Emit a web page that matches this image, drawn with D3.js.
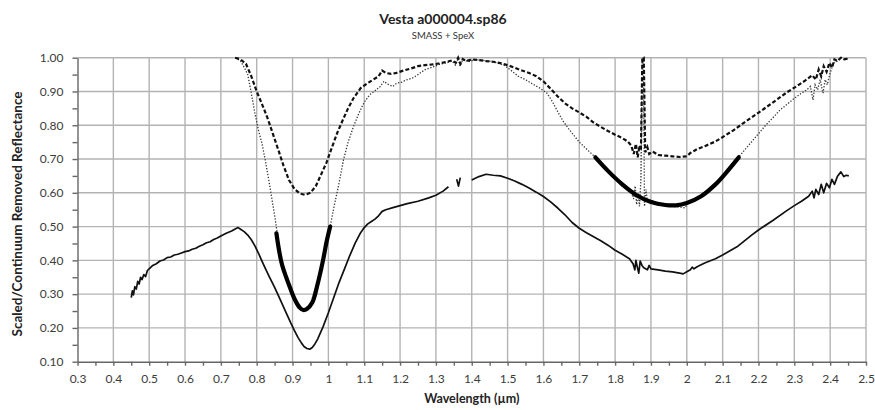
<!DOCTYPE html>
<html>
<head>
<meta charset="utf-8">
<script src="https://cdn.jsdelivr.net/npm/d3@7"></script>
<style>
  body { margin: 0; background: #fff; }
  svg { display: block; font-family: Lato, 'Open Sans', sans-serif; }
</style>
</head>
<body>
<svg></svg>
<script>
// Dimensions (plot box in pixels)
var width = 875;
var height = 410;
var plotLeft = 77.5, plotRight = 866, plotTop = 57.7, plotBottom = 361.7;

// Chart text
var title = 'Vesta a000004.sp86';
var subtitle = 'SMASS + SpeX';
var xLabel = 'Wavelength (\u00b5m)';
var yLabel = 'Scaled/Continuum Removed Reflectance';

// Tick values
var xTicks = [0.3, 0.4, 0.5, 0.6, 0.7, 0.8, 0.9, 1, 1.1, 1.2, 1.3, 1.4, 1.5, 1.6, 1.7, 1.8, 1.9, 2, 2.1, 2.2, 2.3, 2.4, 2.5];
var yTicks = [0.1, 0.2, 0.3, 0.4, 0.5, 0.6, 0.7, 0.8, 0.9, 1.0];

// Scaled reflectance spectrum (solid), null = gap
var spectrum = [
  [0.450, 0.290], [0.453, 0.310], [0.456, 0.298], [0.460, 0.322], [0.464, 0.315], [0.468, 0.338],
  [0.472, 0.330], [0.476, 0.350], [0.480, 0.343], [0.485, 0.358], [0.490, 0.352], [0.495, 0.370],
  [0.500, 0.375], [0.510, 0.385], [0.520, 0.390], [0.530, 0.398], [0.540, 0.401], [0.550, 0.408],
  [0.560, 0.410], [0.570, 0.416], [0.580, 0.418], [0.590, 0.422], [0.600, 0.426], [0.610, 0.428],
  [0.620, 0.433], [0.630, 0.436], [0.640, 0.442], [0.650, 0.446], [0.660, 0.452], [0.670, 0.455],
  [0.680, 0.462], [0.690, 0.466], [0.700, 0.472], [0.715, 0.480], [0.730, 0.487], [0.740, 0.493],
  [0.748, 0.497], [0.755, 0.492], [0.765, 0.485], [0.775, 0.475], [0.785, 0.461], [0.795, 0.443],
  [0.805, 0.421], [0.815, 0.397], [0.825, 0.374], [0.835, 0.352], [0.850, 0.320], [0.865, 0.285],
  [0.880, 0.250], [0.895, 0.215], [0.905, 0.193], [0.915, 0.172], [0.925, 0.155], [0.932, 0.145],
  [0.940, 0.139], [0.948, 0.137], [0.955, 0.142], [0.962, 0.152], [0.970, 0.167], [0.985, 0.203],
  [1.000, 0.245], [1.015, 0.290], [1.030, 0.335], [1.045, 0.375], [1.060, 0.415], [1.075, 0.452],
  [1.090, 0.482], [1.100, 0.497], [1.110, 0.508], [1.120, 0.515], [1.130, 0.522], [1.140, 0.532],
  [1.150, 0.545], [1.160, 0.550], [1.180, 0.556], [1.200, 0.562], [1.220, 0.568], [1.250, 0.575],
  [1.280, 0.585], [1.300, 0.593], [1.320, 0.605], [1.335, 0.618], [1.340, null],
  [1.358, 0.640], [1.363, 0.620], [1.368, 0.645], [1.380, null],
  [1.400, 0.638], [1.420, 0.648], [1.440, 0.655], [1.460, 0.652], [1.480, 0.650], [1.500, 0.643],
  [1.520, 0.635], [1.540, 0.625], [1.560, 0.614], [1.580, 0.602], [1.600, 0.589], [1.620, 0.573],
  [1.640, 0.555], [1.660, 0.535], [1.680, 0.512], [1.700, 0.495], [1.720, 0.482], [1.740, 0.470],
  [1.760, 0.458], [1.780, 0.445], [1.800, 0.430], [1.820, 0.418], [1.840, 0.405], [1.850, 0.390],
  [1.855, 0.372], [1.858, 0.400], [1.862, 0.380], [1.866, 0.362], [1.870, 0.398], [1.875, 0.385],
  [1.880, 0.378], [1.890, 0.372], [1.895, 0.385], [1.900, 0.375], [1.920, 0.372], [1.940, 0.368],
  [1.960, 0.366], [1.980, 0.362], [1.990, 0.360], [2.000, 0.366], [2.010, 0.372], [2.015, 0.380],
  [2.020, 0.375], [2.030, 0.382], [2.050, 0.392], [2.080, 0.405], [2.100, 0.416], [2.140, 0.440],
  [2.180, 0.474], [2.200, 0.490], [2.240, 0.518], [2.280, 0.548], [2.300, 0.562], [2.320, 0.575],
  [2.340, 0.590], [2.350, 0.605], [2.355, 0.585], [2.360, 0.610], [2.368, 0.595], [2.375, 0.625],
  [2.382, 0.600], [2.390, 0.628], [2.398, 0.615], [2.405, 0.640], [2.412, 0.625], [2.420, 0.648],
  [2.430, 0.662], [2.438, 0.648], [2.445, 0.652], [2.452, 0.650]
];

// Continuum removed, SMASS + SpeX (dashed)
var removedA = [
  [0.740, 1.000], [0.755, 0.995], [0.770, 0.982], [0.785, 0.945], [0.800, 0.900], [0.815, 0.862],
  [0.830, 0.822], [0.845, 0.775], [0.860, 0.728], [0.875, 0.680], [0.890, 0.638], [0.905, 0.612],
  [0.920, 0.598], [0.935, 0.594], [0.950, 0.600], [0.965, 0.620], [0.980, 0.655], [0.995, 0.690],
  [1.010, 0.735], [1.025, 0.778], [1.040, 0.815], [1.055, 0.850], [1.070, 0.880], [1.090, 0.910],
  [1.110, 0.925], [1.125, 0.935], [1.140, 0.945], [1.150, 0.962], [1.160, 0.955], [1.175, 0.952],
  [1.190, 0.955], [1.210, 0.962], [1.230, 0.968], [1.250, 0.975], [1.270, 0.978], [1.290, 0.980],
  [1.310, 0.983], [1.330, 0.988], [1.345, 0.992], [1.355, 0.985], [1.362, 1.000], [1.368, 0.982],
  [1.375, 0.996], [1.385, 0.990], [1.400, 0.995], [1.420, 0.993], [1.440, 0.990], [1.460, 0.988],
  [1.480, 0.984], [1.500, 0.978], [1.520, 0.970], [1.540, 0.962], [1.560, 0.955], [1.580, 0.945],
  [1.600, 0.930], [1.620, 0.908], [1.640, 0.885], [1.660, 0.865], [1.680, 0.850], [1.700, 0.838],
  [1.720, 0.825], [1.740, 0.808], [1.760, 0.795], [1.780, 0.783], [1.800, 0.772], [1.820, 0.762],
  [1.835, 0.752], [1.845, 0.740], [1.852, 0.715], [1.858, 0.745], [1.863, 0.705], [1.868, 0.740],
  [1.872, 0.725], [1.876, 1.000], [1.880, 1.000], [1.884, 0.720], [1.890, 0.735], [1.895, 0.715],
  [1.905, 0.722], [1.920, 0.712], [1.940, 0.710], [1.960, 0.708], [1.980, 0.706], [2.000, 0.708],
  [2.010, 0.718], [2.020, 0.724], [2.030, 0.730], [2.050, 0.738], [2.080, 0.752], [2.100, 0.765],
  [2.130, 0.785], [2.160, 0.808], [2.190, 0.830], [2.220, 0.852], [2.250, 0.875], [2.280, 0.898],
  [2.310, 0.918], [2.330, 0.932], [2.350, 0.948], [2.360, 0.935], [2.368, 0.965], [2.375, 0.945],
  [2.382, 0.975], [2.390, 0.958], [2.398, 0.985], [2.405, 0.970], [2.412, 0.995], [2.420, 0.990],
  [2.430, 1.000], [2.440, 0.995], [2.452, 0.998]
];

// Continuum removed spectrum (dotted)
var removedB = [
  [0.740, 1.000], [0.755, 0.990], [0.765, 0.972], [0.775, 0.950], [0.785, 0.895], [0.795, 0.835],
  [0.805, 0.785], [0.815, 0.745], [0.825, 0.690], [0.835, 0.630], [0.845, 0.565], [0.852, 0.520],
  [0.858, 0.475], [0.870, 0.390], [0.890, 0.330], [0.910, 0.270], [0.930, 0.252], [0.950, 0.270],
  [0.970, 0.340], [0.990, 0.430], [1.005, 0.500], [1.015, 0.555], [1.030, 0.630], [1.042, 0.697],
  [1.055, 0.750], [1.070, 0.796], [1.085, 0.835], [1.100, 0.868], [1.115, 0.890], [1.130, 0.902],
  [1.145, 0.915], [1.155, 0.930], [1.165, 0.922], [1.180, 0.915], [1.190, 0.924], [1.205, 0.928],
  [1.220, 0.935], [1.235, 0.940], [1.250, 0.950], [1.270, 0.965], [1.290, 0.972], [1.310, 0.980],
  [1.330, 0.985], [1.345, 0.990], [1.355, 0.978], [1.362, 0.998], [1.368, 0.975], [1.375, 0.995],
  [1.390, 0.988], [1.410, 0.994], [1.430, 0.992], [1.450, 0.990], [1.470, 0.985], [1.490, 0.978],
  [1.510, 0.962], [1.530, 0.945], [1.550, 0.935], [1.570, 0.922], [1.590, 0.910], [1.610, 0.895],
  [1.625, 0.870], [1.640, 0.840], [1.655, 0.812], [1.670, 0.790], [1.685, 0.770], [1.700, 0.750],
  [1.715, 0.735], [1.730, 0.720], [1.745, 0.705], [1.760, 0.685], [1.780, 0.660], [1.800, 0.640],
  [1.820, 0.620], [1.835, 0.608], [1.845, 0.600], [1.852, 0.582], [1.856, 0.620], [1.860, 0.565],
  [1.864, 0.600], [1.868, 0.560], [1.872, 0.640], [1.876, 1.000], [1.879, 0.998], [1.882, 0.560],
  [1.886, 0.610], [1.890, 0.575], [1.900, 0.580], [1.920, 0.565], [1.940, 0.562], [1.960, 0.560],
  [1.980, 0.558], [1.995, 0.555], [2.000, 0.565], [2.010, 0.575], [2.020, 0.578], [2.040, 0.590],
  [2.060, 0.608], [2.080, 0.625], [2.100, 0.645], [2.120, 0.670], [2.140, 0.700], [2.160, 0.725],
  [2.180, 0.750], [2.200, 0.775], [2.220, 0.800], [2.240, 0.822], [2.260, 0.845], [2.280, 0.862],
  [2.300, 0.880], [2.320, 0.895], [2.335, 0.905], [2.345, 0.915], [2.352, 0.875], [2.358, 0.920],
  [2.365, 0.905], [2.372, 0.935], [2.380, 0.895], [2.386, 0.935], [2.392, 0.920], [2.400, 0.955],
  [2.410, 0.985], [2.420, 0.990], [2.430, 1.000], [2.440, 0.995], [2.452, 0.998]
];

// Band I and Band II polynomial fits (thick)
var bandOne = [
  [0.855, 0.480], [0.870, 0.390], [0.890, 0.328], [0.905, 0.287], [0.920, 0.260], [0.930, 0.253],
  [0.940, 0.256], [0.955, 0.275], [0.970, 0.330], [0.985, 0.400], [0.995, 0.455], [1.005, 0.500]
];
var bandTwo = [
  [1.745, 0.705], [1.780, 0.665], [1.820, 0.625], [1.860, 0.593], [1.900, 0.573], [1.940, 0.564],
  [1.970, 0.563], [2.000, 0.570], [2.040, 0.590], [2.080, 0.625], [2.110, 0.660], [2.145, 0.705]
];

var svg = d3.select('svg')
  .attr('width', width)
  .attr('height', height);

var x = d3.scaleLinear().domain([0.3, 2.5]).range([plotLeft, plotRight]);
var y = d3.scaleLinear().domain([0.1, 1.0]).range([plotBottom, plotTop]);

// Gridlines
svg.append('g')
  .selectAll('line')
  .data(xTicks.slice(1))
  .enter().append('line')
    .attr('x1', function (d) { return x(d); })
    .attr('x2', function (d) { return x(d); })
    .attr('y1', y(0.1))
    .attr('y2', y(1.0))
    .attr('stroke', '#b3b3b3')
    .attr('stroke-width', 1.4);

svg.append('g')
  .selectAll('line')
  .data(yTicks.slice(1))
  .enter().append('line')
    .attr('x1', x(0.3))
    .attr('x2', x(2.5))
    .attr('y1', function (d) { return y(d); })
    .attr('y2', function (d) { return y(d); })
    .attr('stroke', '#b3b3b3')
    .attr('stroke-width', 1.4);

// Minor ticks every 0.05
var xMinor = d3.range(0, 45).map(function (i) { return Math.round((0.3 + i * 0.05) * 100) / 100; });
var yMinor = d3.range(0, 19).map(function (i) { return Math.round((0.1 + i * 0.05) * 100) / 100; });

svg.append('g')
  .attr('transform', 'translate(0,' + plotBottom + ')')
  .call(d3.axisBottom(x).tickValues(xMinor).tickSize(4).tickSizeOuter(0).tickFormat(''))
  .call(function (g) {
    g.selectAll('line, path').attr('stroke', '#666').attr('stroke-width', 1.4);
  });

svg.append('g')
  .attr('transform', 'translate(' + plotLeft + ',0)')
  .call(d3.axisLeft(y).tickValues(yMinor).tickSize(5).tickSizeOuter(0).tickFormat(''))
  .call(function (g) {
    g.selectAll('line, path').attr('stroke', '#666').attr('stroke-width', 1.4);
  });

// Tick labels
var xAxis = svg.append('g')
  .attr('transform', 'translate(0,' + plotBottom + ')')
  .call(d3.axisBottom(x).tickValues(xTicks).tickSize(0).tickPadding(13).tickFormat(d3.format('~g')));
xAxis.select('.domain').remove();
xAxis.selectAll('text')
  .attr('font-family', 'Lato, sans-serif')
  .attr('font-size', 12)
  .attr('fill', '#3c3c3c');

var yAxis = svg.append('g')
  .attr('transform', 'translate(' + plotLeft + ',0)')
  .call(d3.axisLeft(y).tickValues(yTicks).tickSize(0).tickPadding(14).tickFormat(d3.format('.2f')));
yAxis.select('.domain').remove();
yAxis.selectAll('text')
  .attr('font-family', 'Lato, sans-serif')
  .attr('font-size', 12)
  .attr('fill', '#3c3c3c');

// Lines
var line = d3.line()
  .defined(function (d) { return d[1] !== null; })
  .x(function (d) { return x(d[0]); })
  .y(function (d) { return y(d[1]); });

var smooth = d3.line()
  .x(function (d) { return x(d[0]); })
  .y(function (d) { return y(d[1]); })
  .curve(d3.curveCatmullRom);

svg.append('path')
  .datum(removedB)
  .attr('d', line)
  .attr('fill', 'none')
  .attr('stroke', '#333')
  .attr('stroke-width', 1.3)
  .attr('stroke-dasharray', '1.3,1.7');

svg.append('path')
  .datum(removedA)
  .attr('d', line)
  .attr('fill', 'none')
  .attr('stroke', '#111')
  .attr('stroke-width', 2.2)
  .attr('stroke-dasharray', '4,2.2');

svg.append('path')
  .datum(spectrum)
  .attr('d', line)
  .attr('fill', 'none')
  .attr('stroke', '#111')
  .attr('stroke-width', 1.7)
  .attr('stroke-linejoin', 'round');

[bandOne, bandTwo].forEach(function (band) {
  svg.append('path')
    .datum(band)
    .attr('d', smooth)
    .attr('fill', 'none')
    .attr('stroke', '#000')
    .attr('stroke-width', 4.2)
    .attr('stroke-linecap', 'round');
});

// Titles
svg.append('text')
  .attr('x', 443)
  .attr('y', 24)
  .attr('text-anchor', 'middle')
  .attr('font-weight', 'bold')
  .attr('font-size', 14)
  .attr('fill', '#222')
  .text(title);

svg.append('text')
  .attr('x', 443)
  .attr('y', 39)
  .attr('text-anchor', 'middle')
  .attr('font-size', 9.5)
  .attr('fill', '#333')
  .text(subtitle);

svg.append('text')
  .attr('x', (plotLeft + plotRight) / 2)
  .attr('y', 403)
  .attr('text-anchor', 'middle')
  .attr('font-weight', 'bold')
  .attr('font-size', 12.5)
  .attr('fill', '#222')
  .text(xLabel);

svg.append('text')
  .attr('text-anchor', 'middle')
  .attr('transform', 'translate(22,214)rotate(-90)')
  .attr('font-weight', 'bold')
  .attr('font-size', 13.5)
  .attr('fill', '#222')
  .text(yLabel);
</script>
</body>
</html>
